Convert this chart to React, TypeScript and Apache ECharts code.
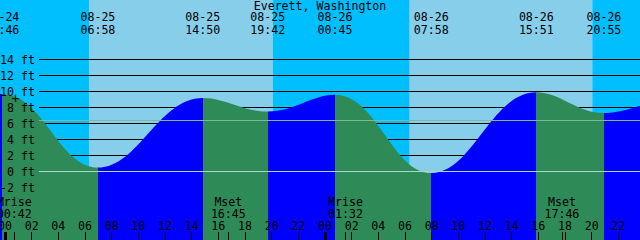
import React, { useEffect, useRef } from 'react';
import * as echarts from 'echarts';

const TITLE = 'Everett, Washington';
const YEAR = 2024;
const MONTH = 7; // August (0-based)
const at = (day: number, h: number, m: number, s = 0) => new Date(YEAR, MONTH, day, h, m, s).getTime();

const RANGE_START = at(24, 23, 37, 30);
const RANGE_END = at(26, 23, 37, 30);

// Tide extremes (first and last lie outside the visible window)
const tideTimes = [at(24, 18, 45), at(24, 23, 46), at(25, 6, 58), at(25, 14, 50), at(25, 19, 42), at(26, 0, 45), at(26, 7, 58), at(26, 15, 51), at(26, 20, 55), at(27, 1, 50)];
const tideHeights = [7.6, 9.7, 0.5, 9.2, 7.5, 9.6, -0.2, 9.9, 7.3, 9.7];
const tideKinds = ['L', 'H', 'L', 'H', 'L', 'H', 'L', 'H', 'L', 'H'];

const dayStarts = [at(25, 6, 18), at(26, 6, 19)];
const dayEnds = [at(25, 20, 6), at(26, 20, 4)];

const moonTimes = [at(25, 0, 42), at(25, 16, 45), at(26, 1, 32), at(26, 17, 46)];
const moonLabels = ['Mrise', 'Mset', 'Mrise', 'Mset'];

const midnights = [at(25, 0, 0), at(26, 0, 0)];
const hourLabelStep = 2; // hours
const yTickMin = -2;
const yTickMax = 14;
const yTickStep = 2;
const MEAN_LEVEL = 6.4;
const markTimes = [at(25, 0, 47)];
const markHeights = [9.15];

const NIGHT = '#00BFFF';
const DAY = '#87CEEB';
const RISE = '#0000FF';
const FALL = '#2E8B57';
const FONT = '"DejaVu Sans Mono", monospace';
const FS = 11.6;

const pad = (n: number) => (n < 10 ? '0' + n : '' + n);

export default function App() {
  const ref = useRef<HTMLDivElement>(null);
  useEffect(() => {
    if (!ref.current) return;
    const chart = echarts.init(ref.current, undefined, { renderer: 'svg' });

    const evenHours: number[] = [];
    for (let t = midnights[0] - 24 * 3600e3; t <= RANGE_END; t += hourLabelStep * 3600e3) {
      if (t >= RANGE_START) evenHours.push(t);
    }
    const visibleExtremes = tideTimes.filter((t) => t >= RANGE_START && t <= RANGE_END);
    const pieces = tideTimes.slice(1).map((t, i) => ({
      gt: tideTimes[i],
      lte: t,
      color: tideKinds[i + 1] === 'H' ? RISE : FALL,
    }));

    const textBase = { fontFamily: FONT, fontSize: FS, color: '#000' };
    const timeAxisBase = {
      type: 'value', gridIndex: 0, min: RANGE_START, max: RANGE_END, z: 6,
      axisLine: { show: false, onZero: false },
      splitLine: { show: false },
    };

    chart.setOption({
      animation: false,
      backgroundColor: NIGHT,
      title: {
        text: TITLE,
        left: 'center',
        top: 0,
        padding: 0,
        textStyle: { ...textBase, fontWeight: 'normal', lineHeight: 11 },
      },
      grid: [
        { left: 0, right: 0, top: 0, bottom: 0, containLabel: false, outerBoundsMode: 'none' },
        { left: 39, right: 0, top: 59.5, bottom: 52.5, containLabel: false, outerBoundsMode: 'none' },
      ],
      xAxis: [
        {
          ...timeAxisBase, position: 'bottom',
          axisTick: { show: true, inside: true, length: 8, customValues: evenHours.concat(moonTimes), lineStyle: { color: '#000', width: 1 } },
          axisLabel: {
            show: true, inside: true, margin: 14.5, verticalAlign: 'middle', customValues: evenHours,
            formatter: (v: number) => pad(new Date(v).getHours()), ...textBase,
          },
        },
        {
          ...timeAxisBase, position: 'bottom',
          axisTick: { show: true, inside: true, length: 8, customValues: midnights, lineStyle: { color: '#000', width: 3 } },
          axisLabel: {
            show: true, inside: true, margin: 32.25, verticalAlign: 'middle', lineHeight: 11.5, customValues: moonTimes,
            formatter: (v: number) => {
              const i = moonTimes.indexOf(v);
              const dt = new Date(v);
              return (i >= 0 ? moonLabels[i] : '') + '\n' + pad(dt.getHours()) + ':' + pad(dt.getMinutes());
            },
            ...textBase,
          },
        },
        {
          ...timeAxisBase, position: 'top',
          axisTick: { show: false },
          axisLabel: {
            show: true, inside: true, margin: 23.5, verticalAlign: 'middle', lineHeight: 12.5, customValues: visibleExtremes,
            formatter: (v: number) => {
              const dt = new Date(v);
              return pad(dt.getMonth() + 1) + '-' + pad(dt.getDate()) + '\n' + pad(dt.getHours()) + ':' + pad(dt.getMinutes());
            },
            ...textBase,
          },
        },
        { type: 'value', gridIndex: 1, min: 0, max: 1, show: false },
      ],
      yAxis: [
        { type: 'value', gridIndex: 0, min: -68.5 / 8, max: 171.5 / 8, show: false },
        {
          type: 'value', gridIndex: 1, position: 'left', min: yTickMin, max: yTickMax, interval: yTickStep, z: 1,
          axisLine: { show: false }, axisTick: { show: false }, axisLabel: { show: false },
          splitLine: { show: true, lineStyle: { color: '#000', width: 1 } },
        },
        {
          type: 'value', gridIndex: 1, position: 'left', min: yTickMin, max: yTickMax, interval: yTickStep, z: 6,
          axisLine: { show: false }, axisTick: { show: false }, splitLine: { show: false },
          axisLabel: { show: true, margin: 4, formatter: (v: number) => v + ' ft', ...textBase },
        },
      ],
      visualMap: {
        type: 'piecewise', show: false, dimension: 0, seriesIndex: 1,
        pieces, outOfRange: { color: RISE },
      },
      series: [
        {
          type: 'custom', xAxisIndex: 0, yAxisIndex: 0, z: 0, silent: true,
          data: dayStarts.map((s, i) => [s, dayEnds[i], 0]),
          encode: { x: [0, 1], y: 2 },
          renderItem: (params: any, api: any) => {
            const a = api.coord([api.value(0), 0]);
            const b = api.coord([api.value(1), 0]);
            const cs = params.coordSys;
            return { type: 'rect', shape: { x: a[0], y: cs.y, width: b[0] - a[0], height: cs.height }, style: { fill: DAY } };
          },
        },
        {
          type: 'line', xAxisIndex: 0, yAxisIndex: 0, z: 2, silent: true,
          data: tideTimes.map((t, i) => [t, tideHeights[i]]),
          smooth: 0.4, symbol: 'none',
          lineStyle: { width: 0 },
          areaStyle: { opacity: 1, origin: 'start' },
        },
        {
          type: 'scatter', xAxisIndex: 0, yAxisIndex: 0, z: 7, silent: true,
          data: markTimes.map((t, i) => [t, markHeights[i]]),
          symbolSize: 0,
          label: { show: true, position: 'inside', formatter: '+', fontFamily: FONT, fontSize: 14, color: '#000' },
        },
        {
          type: 'line', xAxisIndex: 3, yAxisIndex: 1, z: 5, silent: true,
          data: [],
          markLine: {
            silent: true, symbol: 'none', animation: false, label: { show: false },
            data: [
              { yAxis: 0, lineStyle: { color: '#A6D8CC', width: 1, type: 'solid' } },
              { yAxis: MEAN_LEVEL, lineStyle: { color: '#7DBA9A', width: 1, type: 'solid' } },
            ],
          },
        },
      ],
    });
    return () => chart.dispose();
  }, []);
  return <div ref={ref} style={{ position: 'absolute', left: 0, top: 0, width: 640, height: 240 }} />;
}
